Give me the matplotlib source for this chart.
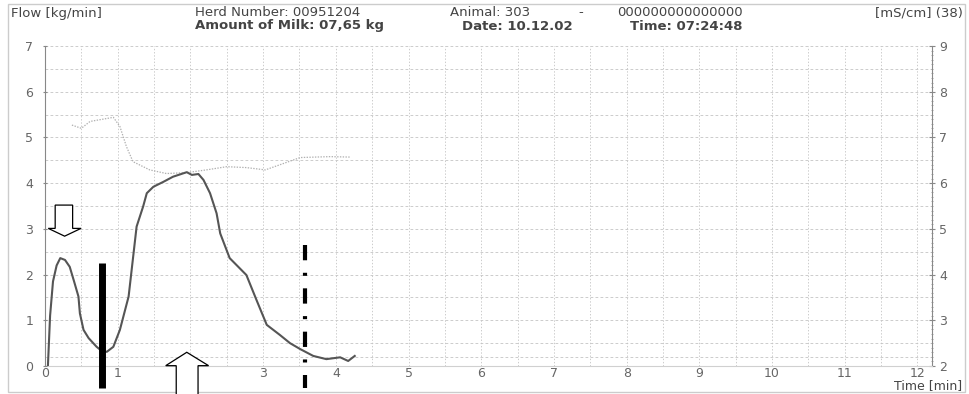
# Milking record: milk flow and conductivity over time
import matplotlib
matplotlib.use("Agg")
import matplotlib.pyplot as plt
from matplotlib.patches import Polygon, Rectangle

plt.rcParams['font.family'] = ['DejaVu Sans']
plt.rcParams['lines.scale_dashes'] = False

# flow curve (kg/min)
flow_t = [0.04, 0.07, 0.11, 0.16, 0.21, 0.275, 0.34, 0.40, 0.46, 0.48, 0.53, 0.60,
          0.71, 0.78, 0.85, 0.94, 1.03, 1.15, 1.26, 1.35, 1.40, 1.49, 1.63, 1.76,
          1.95, 2.02, 2.11, 2.18, 2.27, 2.36, 2.41, 2.54, 2.77, 2.91, 3.05, 3.23,
          3.37, 3.51, 3.69, 3.87, 4.06, 4.17, 4.26]
flow = [0.0, 1.1, 1.85, 2.2, 2.36, 2.32, 2.17, 1.85, 1.52, 1.15, 0.79, 0.61,
        0.42, 0.33, 0.31, 0.42, 0.79, 1.52, 3.05, 3.49, 3.78, 3.92, 4.03, 4.14,
        4.24, 4.18, 4.20, 4.07, 3.78, 3.34, 2.90, 2.36, 1.99, 1.44, 0.90, 0.68,
        0.50, 0.37, 0.22, 0.15, 0.19, 0.11, 0.22]

# conductivity (mS/cm), right axis
cond_t = [0.37, 0.50, 0.62, 0.80, 0.94, 1.03, 1.12, 1.21, 1.44, 1.67, 1.95,
          2.22, 2.50, 2.77, 3.03, 3.28, 3.51, 3.92, 4.20]
cond = [7.27, 7.20, 7.35, 7.40, 7.44, 7.24, 6.80, 6.47, 6.29, 6.21, 6.23,
        6.29, 6.36, 6.34, 6.29, 6.43, 6.56, 6.58, 6.57]

x_ticks = list(range(0, 13))
left_ticks = list(range(0, 8))
right_ticks = list(range(2, 10))

# markers drawn on the chart (minutes / kg/min)
down_arrow_x = 0.27
up_arrow_x = 1.95
bar_x = 0.78
dashdot_x = 3.57

fig = plt.figure(figsize=(9.69, 3.94), dpi=100)
ax2 = fig.add_axes([45/969, 28/394, 887/969, 320/394])
ax = ax2.twinx()
ax.yaxis.tick_left()
ax2.yaxis.tick_right()
ax.set_zorder(ax2.get_zorder() + 1)
ax.patch.set_visible(False)

ax.set_xlim(0, 12.2)
ax.set_ylim(0, 7)
ax2.set_ylim(2, 9)

# grid
for gx in [i * 0.5 for i in range(1, 25)]:
    ax2.axvline(gx, color='#c4c4c4', lw=0.6, ls=(0, (1, 1.3)), zorder=0)
for gy in [i * 0.5 for i in range(1, 15)] + [0.2]:
    ax2.axhline(gy + 2, color='#c4c4c4', lw=0.6, ls=(0, (2, 1.6)), zorder=0)

for s in ['top', 'right', 'bottom']:
    ax.spines[s].set_visible(False)
for s in ['top', 'left']:
    ax2.spines[s].set_visible(False)
ax.spines['left'].set_color('#888888')
ax2.spines['right'].set_color('#888888')
ax2.spines['bottom'].set_color('#d0d0d0')

ax.set_xticks(x_ticks)
ax.set_yticks(left_ticks)
ax2.set_yticks(right_ticks)
ax2.set_yticks([2 + i * 0.1 for i in range(71)], minor=True)
ax2.tick_params(axis='y', which='minor', length=2, direction='inout', color='#999999')
ax2.tick_params(axis='y', which='major', length=4, direction='inout', color='#888888',
                labelcolor='#666666', labelsize=9, pad=3)
ax.tick_params(axis='y', length=3, direction='inout', color='#888888',
               labelcolor='#666666', labelsize=9, pad=7)
ax2.tick_params(axis='x', length=0, labelcolor='#666666', labelsize=9, pad=1)
ax2.set_xticks(x_ticks)
ax2.set_xticklabels([str(t) for t in x_ticks])
ax.tick_params(axis='x', length=0, labelbottom=False)

# curves
ax2.plot(cond_t, cond, color='#b0b0b0', lw=0.9, ls=(0, (1, 1)))
ax.plot(flow_t, flow, color='#555555', lw=1.5)

# down arrow
dx = down_arrow_x
ax.add_patch(Polygon([(dx - 0.13, 3.52), (dx + 0.11, 3.52), (dx + 0.11, 3.01),
                      (dx + 0.225, 3.01), (dx, 2.84), (dx - 0.225, 3.01),
                      (dx - 0.13, 3.01)], closed=True, facecolor='white',
                     edgecolor='black', lw=0.9, clip_on=False, zorder=6))
# up arrow
ux = up_arrow_x
ax.add_patch(Polygon([(ux - 0.145, -0.75), (ux + 0.155, -0.75), (ux + 0.155, 0.007),
                      (ux + 0.30, 0.007), (ux, 0.30), (ux - 0.29, 0.007),
                      (ux - 0.145, 0.007)], closed=True, facecolor='white',
                     edgecolor='black', lw=0.9, clip_on=False, zorder=6))
# solid bar and dash-dot line
ax.plot([bar_x, bar_x], [2.26, -0.48], color='black', lw=5, solid_capstyle='butt',
        clip_on=False, zorder=5)
ax.plot([dashdot_x, dashdot_x], [2.65, -0.48], color='black', lw=3,
        ls=(0, (11, 9, 2.2, 9)), dash_capstyle='butt', clip_on=False, zorder=5)

# frame and header texts
fig.add_artist(Rectangle((8/969, 2/394), 957/969, 388/394, transform=fig.transFigure,
                         fill=False, edgecolor='#cccccc', lw=1))
hc = '#444444'
def px(x, y):
    return x / 969, 1 - y / 394

fig.text(*px(11, 14), 'Flow [kg/min]', fontsize=9.5, color=hc, va='center')
fig.text(*px(195, 13), 'Herd Number: 00951204', fontsize=9.5, color=hc, va='center')
fig.text(*px(450, 13), 'Animal: 303', fontsize=9.5, color=hc, va='center')
fig.text(*px(578, 13), '-', fontsize=9.5, color=hc, va='center')
fig.text(*px(617, 13), '000000000000000', fontsize=9.5, color=hc, va='center')
fig.text(*px(195, 26), 'Amount of Milk: 07,65 kg', fontsize=9.5, color=hc,
         va='center', fontweight='bold')
fig.text(*px(462, 26), 'Date: 10.12.02', fontsize=9.5, color=hc, va='center',
         fontweight='bold')
fig.text(*px(630, 26), 'Time: 07:24:48', fontsize=9.5, color=hc, va='center',
         fontweight='bold')
fig.text(*px(963, 13), '[mS/cm] (38)', fontsize=9.5, color=hc, va='center', ha='right')
fig.text(*px(962, 386), 'Time [min]', fontsize=9, color=hc, va='center', ha='right')

fig.savefig('out.png', dpi=100)
